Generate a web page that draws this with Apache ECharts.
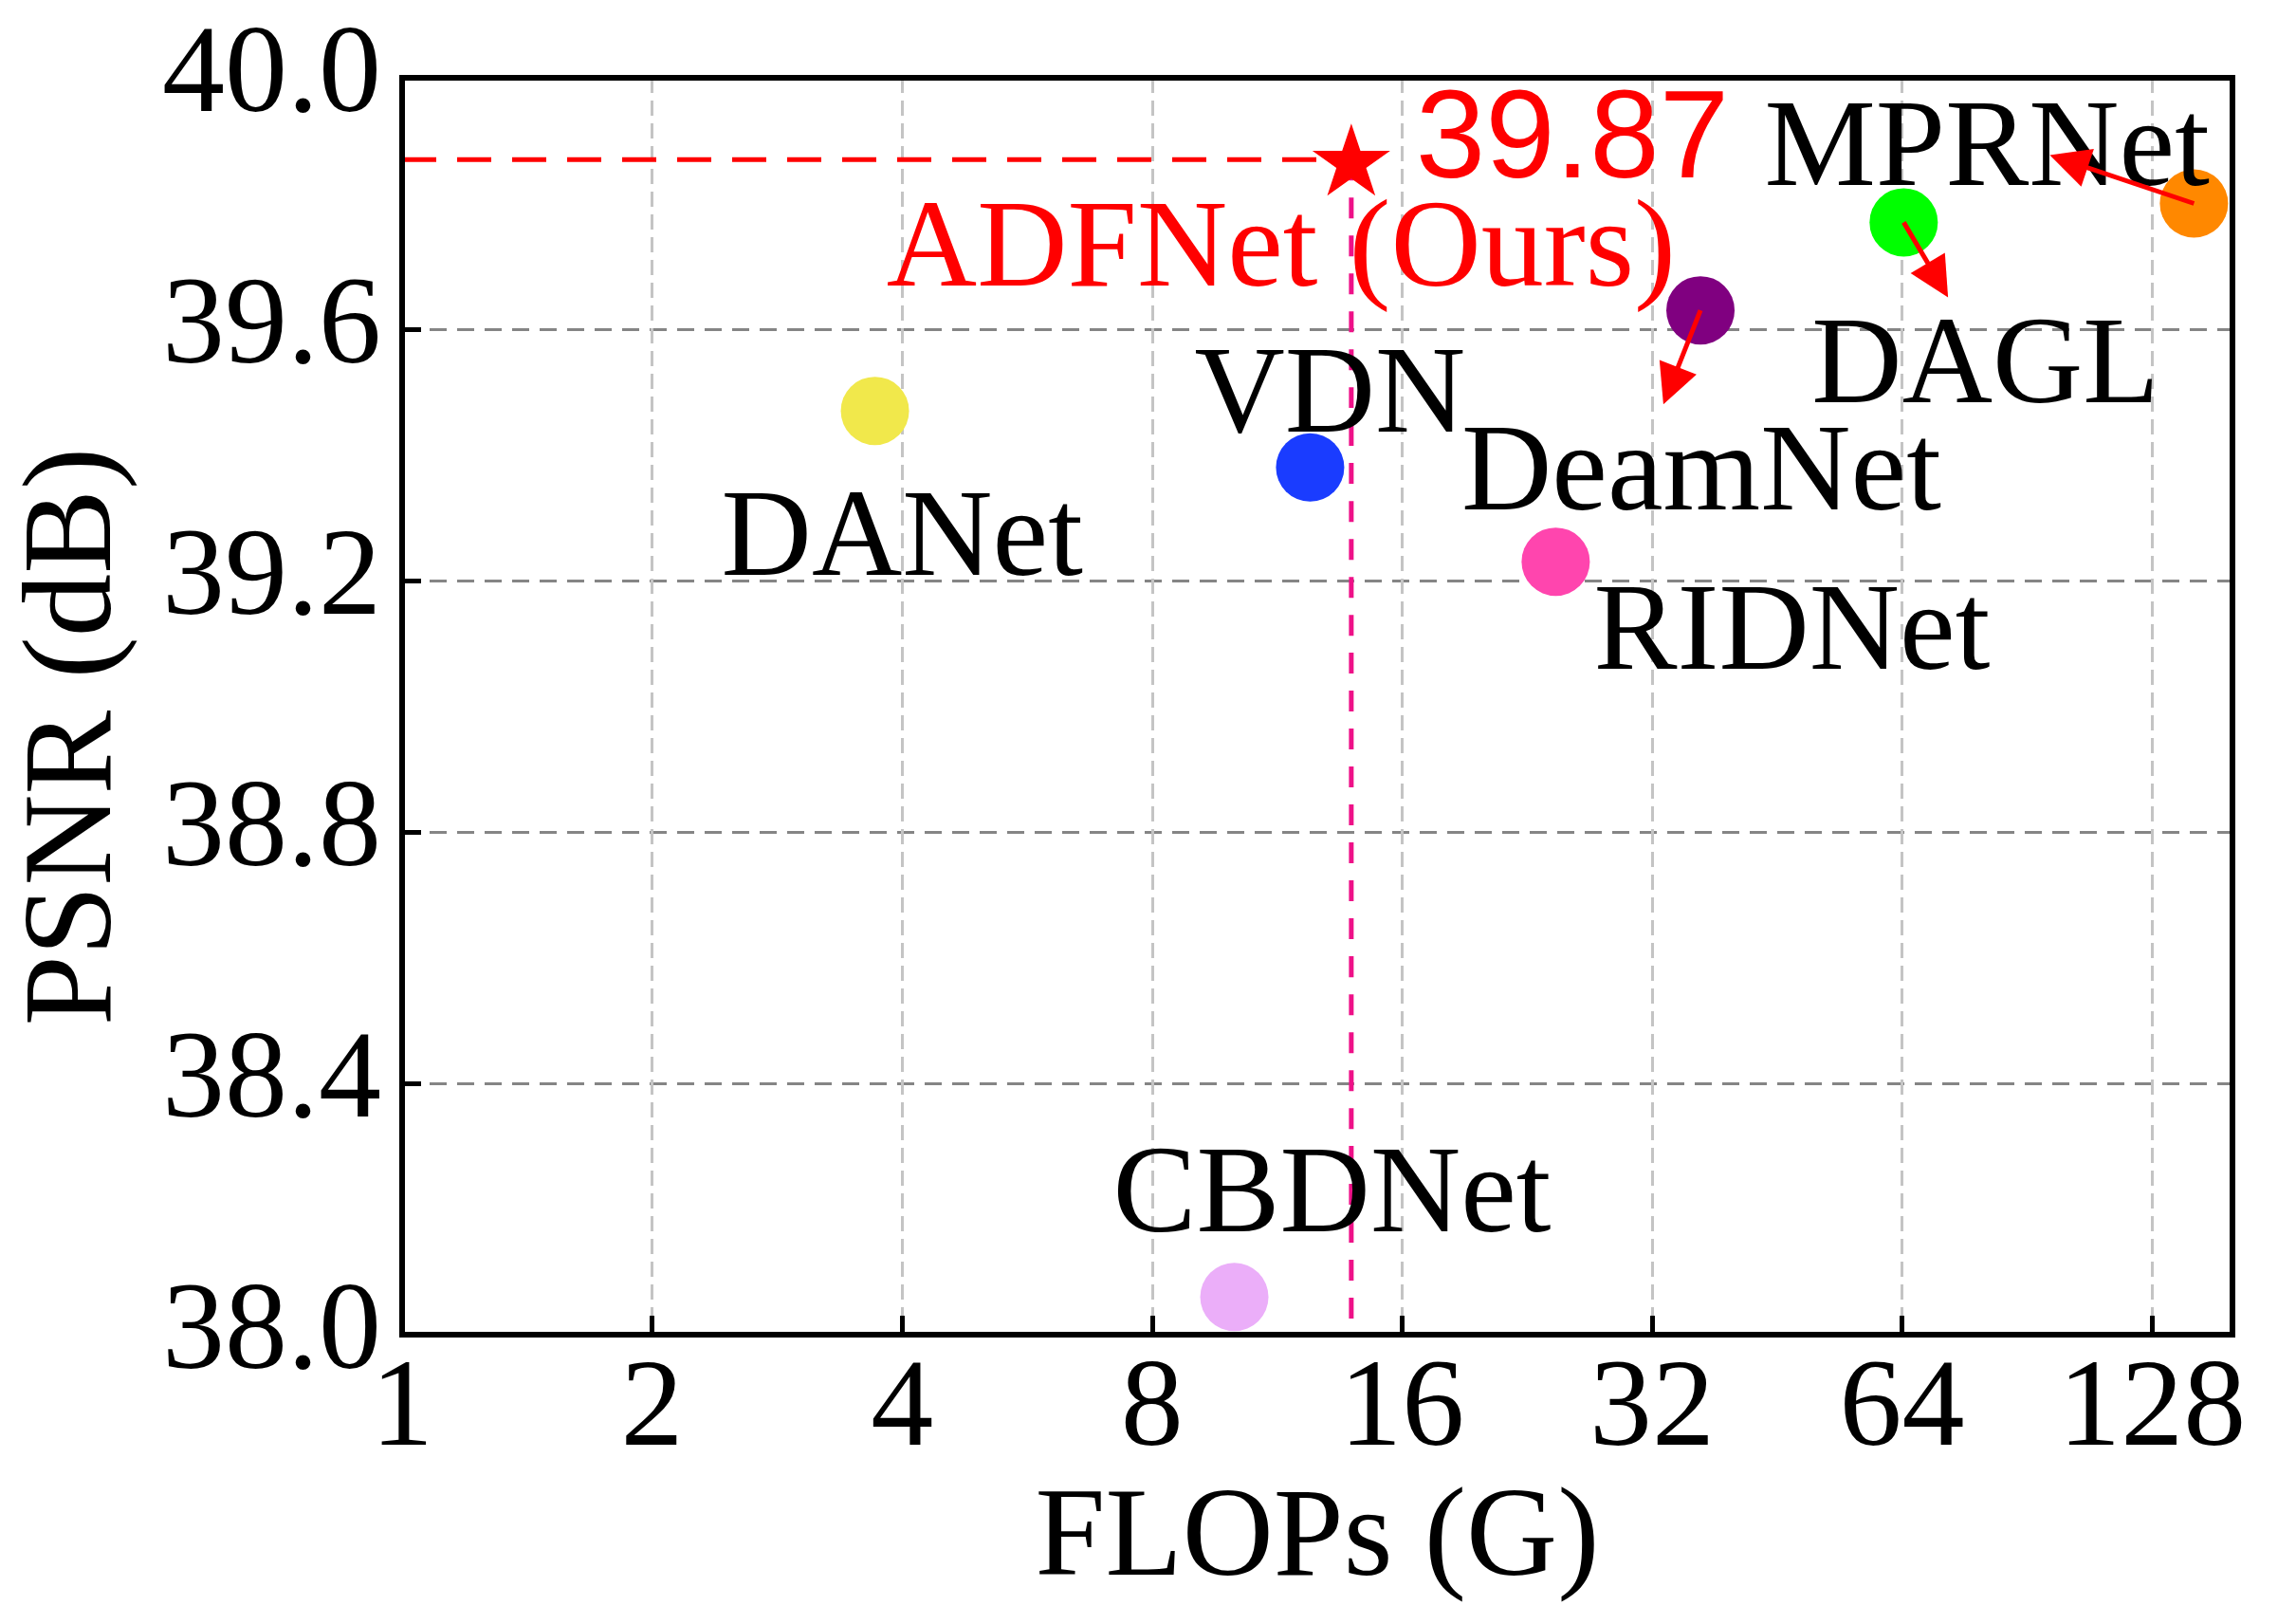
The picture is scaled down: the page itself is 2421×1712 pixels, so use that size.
<!DOCTYPE html>
<html><head><meta charset="utf-8">
<script src="https://cdn.jsdelivr.net/npm/echarts@6/dist/echarts.min.js"></script>
<style>html,body{margin:0;padding:0;background:#fff}#c{width:2421px;height:1712px}</style>
</head><body><div id="c"></div>
<script>
// ---- data ----
const methods = ['DANet', 'VDN', 'CBDNet', 'RIDNet', 'DeamNet', 'DAGL', 'MPRNet'];
const flops = [3.71, 12.4, 10.05, 24.5, 36.6, 64.3, 143.8];
const psnr = [39.47, 39.38, 38.06, 39.23, 39.63, 39.77, 39.80];
const oursName = 'ADFNet (Ours)';
const oursFlops = 13.9;
const oursPsnr = 39.87;
const xTicks = [1, 2, 4, 8, 16, 32, 64, 128];
const xMax = 160;
const yTicks = [38.0, 38.4, 38.8, 39.2, 39.6, 40.0];
const arrowFrom = ['DeamNet', 'DAGL', 'MPRNet'];
const arrowHeadFlops = [33.7, 70.7, 101.6];
const arrowHeadPsnr = [39.510, 39.678, 39.867];

// ---- styles ----
const SERIF = 'Liberation Serif';
const FS = 132;
const colors = {DANet:'#f1e84b', VDN:'#1a3cff', CBDNet:'#ebaef9', RIDNet:'#ff45ae',
  DeamNet:'#800080', DAGL:'#00ff00', MPRNet:'#ff8800'};
const labelOffsets = {DANet:[-162,138], VDN:[-122,-72], CBDNet:[-128,-104], RIDNet:[40,78],
  DeamNet:[-252,175], DAGL:[-97,155], MPRNet:[-453,-54]};
const starPath = 'path://M50,0 L61.2,34.5 L97.6,34.5 L68.2,55.9 L79.4,90.5 L50,69.1 L20.6,90.5 L31.8,55.9 L2.4,34.5 L38.8,34.5 Z';

const pointData = methods.map((m, i) => ({
  name: m,
  value: [flops[i], psnr[i]],
  itemStyle: {color: colors[m], opacity: 1},
  label: {offset: labelOffsets[m]}
}));

const arrowData = arrowFrom.map((m, i) => {
  const k = methods.indexOf(m);
  return {coords: [[flops[k], psnr[k]], [arrowHeadFlops[i], arrowHeadPsnr[i]]]};
});

const isPow2 = v => Math.abs(Math.log2(v) - Math.round(Math.log2(v))) < 1e-6;

const chart = echarts.init(document.getElementById('c'), null, {renderer: 'canvas'});
chart.setOption({
  animation: false,
  backgroundColor: '#fff',
  grid: {left: 424, right: 67, top: 82, bottom: 305, show: true, borderColor: '#000', borderWidth: 6, containLabel: false, z: 20},
  xAxis: {
    type: 'log', logBase: 2, min: xTicks[0], max: xMax,
    name: 'FLOPs (G)', nameLocation: 'middle', nameGap: 143,
    nameTextStyle: {fontFamily: SERIF, fontSize: 133, color: '#000'},
    axisLine: {lineStyle: {color: '#000', width: 6}},
    axisTick: {inside: true, length: 20, lineStyle: {color: '#000', width: 5}},
    axisLabel: {fontFamily: SERIF, fontSize: 132, color: '#000', margin: 15,
      formatter: v => isPow2(v) ? String(Math.round(v)) : ''},
    splitLine: {show: true, showMinLine: false, showMaxLine: false,
      lineStyle: {color: '#c4c4c4', width: 3, type: [16, 8]}},
    minorTick: {show: false}
  },
  yAxis: {
    type: 'value', min: yTicks[0], max: yTicks[yTicks.length - 1], interval: +(yTicks[1] - yTicks[0]).toFixed(6),
    name: 'PSNR (dB)', nameLocation: 'middle', nameGap: 276,
    nameTextStyle: {fontFamily: SERIF, fontSize: 133, color: '#000', padding: [0, 64, 0, 0]},
    axisLine: {lineStyle: {color: '#000', width: 6}},
    axisTick: {inside: true, length: 20, lineStyle: {color: '#000', width: 5}},
    axisLabel: {fontFamily: SERIF, fontSize: 132, color: '#000', margin: 22,
      formatter: v => v.toFixed(1)},
    splitLine: {show: true, showMinLine: false, showMaxLine: false,
      lineStyle: {color: '#858585', width: 3, type: [18, 11]}}
  },
  series: [
    {
      type: 'line', z: 1, symbol: 'none', silent: true,
      data: [[xTicks[0], oursPsnr], [oursFlops, oursPsnr]],
      lineStyle: {color: '#ff0000', width: 5, type: [36, 22]}
    },
    {
      type: 'line', z: 1, symbol: 'none', silent: true,
      data: [[oursFlops, oursPsnr], [oursFlops, yTicks[0]]],
      lineStyle: {color: '#ee1188', width: 5, type: [22, 18]}
    },
    {
      type: 'scatter', z: 3, symbol: 'circle', symbolSize: 72,
      itemStyle: {opacity: 1},
      data: pointData,
      label: {show: true, position: 'inside', align: 'left', verticalAlign: 'middle',
        formatter: p => p.name, fontFamily: SERIF, fontSize: FS, color: '#000', opacity: 1}
    },
    {
      type: 'scatter', z: 4, symbol: starPath, symbolSize: [82, 76],
      itemStyle: {color: '#ff0000', opacity: 1},
      data: [{name: oursName, value: [oursFlops, oursPsnr]}],
      label: {show: true, position: 'inside', align: 'left', verticalAlign: 'middle',
        offset: [-490, 98], formatter: p => p.name, fontFamily: SERIF, fontSize: FS, color: '#ff0000', opacity: 1}
    },
    {
      type: 'scatter', z: 4, symbol: 'circle', symbolSize: 2,
      itemStyle: {color: 'rgba(255,255,255,0)', opacity: 1},
      data: [{name: oursName, value: [oursFlops, oursPsnr]}],
      label: {show: true, position: 'inside', align: 'left', verticalAlign: 'middle',
        offset: [68, -18], formatter: p => p.value[1].toFixed(2),
        fontFamily: 'Liberation Sans', fontSize: 132, color: '#ff0000', opacity: 1}
    },
    {
      type: 'lines', coordinateSystem: 'cartesian2d', z: 10, silent: true,
      symbol: ['none', 'triangle'], symbolSize: 42,
      lineStyle: {color: '#ff0000', width: 5, opacity: 1, curveness: 0},
      data: arrowData
    }
  ]
});
</script>
</body></html>
